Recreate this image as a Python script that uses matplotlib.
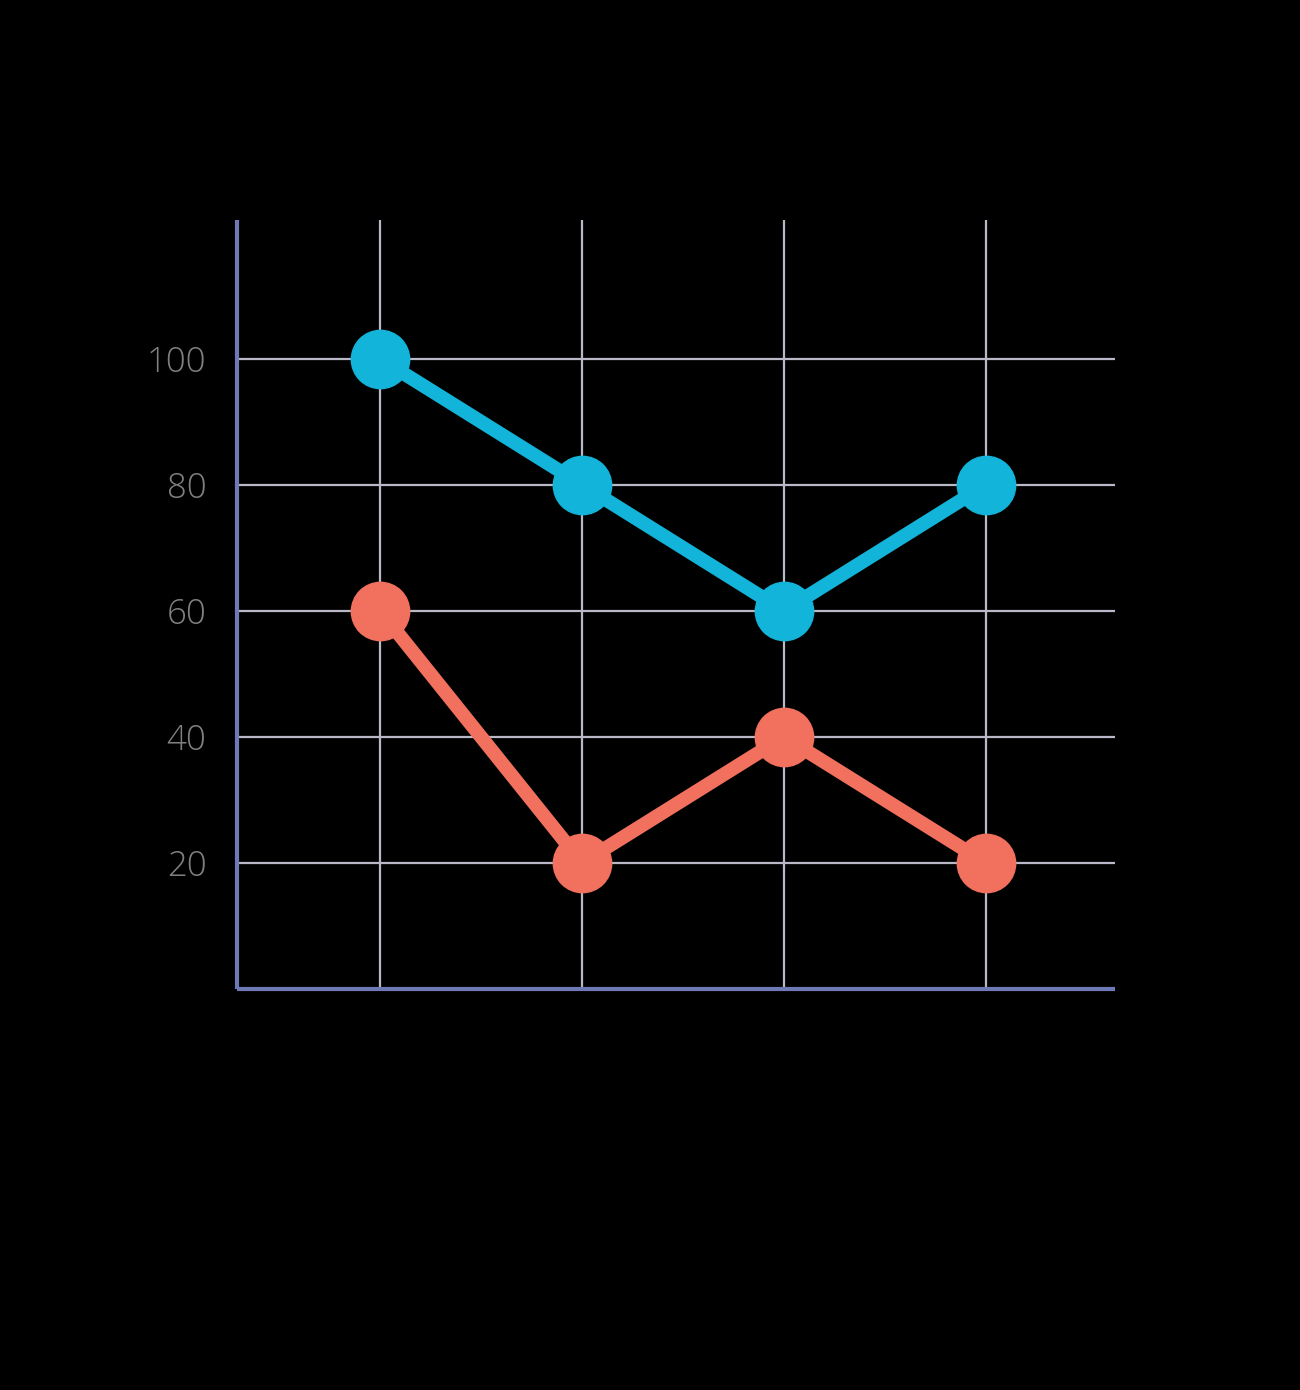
import matplotlib
matplotlib.use("Agg")
import matplotlib.pyplot as plt

categories = [1, 2, 3, 4]
series_blue = [100, 80, 60, 80]
series_orange = [60, 20, 40, 20]
ytick_values = [20, 40, 60, 80, 100]
ytick_labels = ["20", "40", "60", "80", "100"]

W, H = 1300, 1390
fig = plt.figure(figsize=(W / 100, H / 100), dpi=100, facecolor="black")
ax = fig.add_axes([237 / W, (H - 989) / H, (1115 - 237) / W, (989 - 220) / H])
ax.set_facecolor("black")

ax.set_xlim(0.292, 4.639)
ax.set_ylim(0, 122.0)

ax.set_xticks(categories)
ax.set_xticklabels([])
ax.set_yticks(ytick_values)
ax.set_yticklabels(ytick_labels, fontsize=25, color="#808080",
                   family=["Open Sans", "DejaVu Sans"], fontweight="light")
ax.tick_params(axis="both", length=0, pad=22)

ax.grid(True, color="#B8B8C8", linewidth=1.6, zorder=1)
ax.set_axisbelow(True)

for s in ["top", "right"]:
    ax.spines[s].set_visible(False)
for s in ["left", "bottom"]:
    ax.spines[s].set_color("#6F79B5")
    ax.spines[s].set_linewidth(3)
    ax.spines[s].set_zorder(2)
    ax.spines[s].set_capstyle("butt")

ax.plot(categories, series_orange, color="#F2705E", linewidth=10,
        marker="o", markersize=42, solid_capstyle="round", zorder=3, clip_on=False)
ax.plot(categories, series_blue, color="#12B4D9", linewidth=10,
        marker="o", markersize=42, solid_capstyle="round", zorder=4, clip_on=False)

fig.savefig("out.png", dpi=100, facecolor="black")
